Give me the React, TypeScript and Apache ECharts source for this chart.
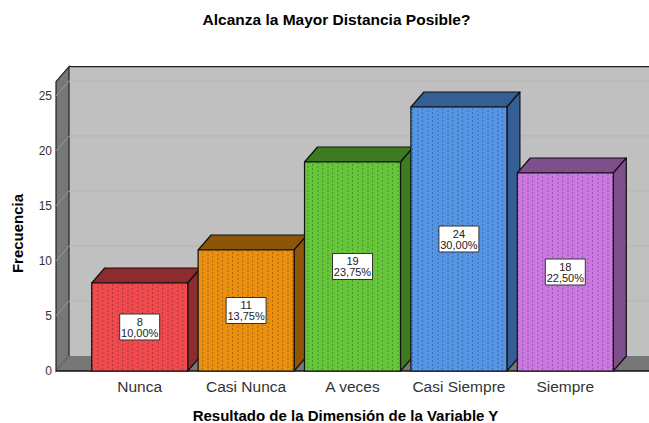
import React, { useEffect, useRef } from "react";
import * as echarts from "echarts";

const categories = ["Nunca", "Casi Nunca", "A veces", "Casi Siempre", "Siempre"];
const counts = [8, 11, 19, 24, 18];
const percents = ["10,00%", "13,75%", "23,75%", "30,00%", "22,50%"];
const frontColors = ["#f04a4e", "#ea8f10", "#64c638", "#5495e6", "#cc78e2"];
const sideColors = ["#8c2c2f", "#8c5508", "#3d7a20", "#355f94", "#7f4f8c"];
const yTicks = [0, 5, 10, 15, 20, 25];
const axisTop = 26.3;

const DX = 13;
const DY = 15;

function dots(fill: string) {
  const c = document.createElement("canvas");
  c.width = 10;
  c.height = 4;
  const g = c.getContext("2d")!;
  g.fillStyle = fill;
  g.fillRect(0, 0, 10, 4);
  g.fillStyle = "rgba(0,0,0,0.26)";
  g.fillRect(2, 0, 1, 2);
  g.fillStyle = "rgba(0,0,0,0.12)";
  g.fillRect(7, 2, 2, 2);
  return { image: c, repeat: "repeat" } as any;
}

export default function App() {
  const ref = useRef<HTMLDivElement>(null);
  useEffect(() => {
    const chart = echarts.init(ref.current!, undefined, { renderer: "svg" });
    const option: any = {
      animation: false,
      backgroundColor: "#fff",
      title: {
        text: "Alcanza la Mayor Distancia Posible?",
        left: 331.5,
        top: 6,
        textAlign: "center",
        textStyle: { fontFamily: "Liberation Sans", fontSize: 15.5, fontWeight: "bold", color: "#000" },
      },
      grid: { left: 86.5, width: 532, top: 96, height: 275, containLabel: false, outerBoundsMode: "none" },
      xAxis: {
        type: "category",
        data: categories,
        name: "Resultado de la Dimensión de la Variable Y",
        nameLocation: "middle",
        nameGap: 37,
        nameTextStyle: { fontFamily: "Liberation Sans", fontSize: 15, fontWeight: "bold", color: "#000", padding: [0, 14, 0, 0] },
        axisLine: { show: false },
        axisTick: { show: false },
        axisLabel: { interval: 0, fontFamily: "Liberation Sans", fontSize: 15.5, color: "#333", margin: 7 },
      },
      yAxis: {
        type: "value",
        min: 0,
        max: 25,
        interval: 5,
        offset: 30.5,
        name: "Frecuencia",
        nameLocation: "middle",
        nameGap: 31,
        nameRotate: 90,
        nameTextStyle: { fontFamily: "Liberation Sans", fontSize: 15, fontWeight: "bold", color: "#000" },
        splitLine: { show: false },
        axisLine: { show: false },
        axisTick: { show: false },
        axisLabel: { fontFamily: "Liberation Sans", fontSize: 12, color: "#333", margin: 4 },
      },
      series: [
        {
          type: "custom",
          coordinateSystem: "cartesian2d",
          clip: false,
          silent: true,
          z: 1,
          data: [0],
          renderItem: (_p: any, api: any) => {
            const y0 = api.coord([0, 0])[1];
            const yT = api.coord([0, axisTop])[1];
            const xL = 56;
            const xR = 660;
            const line = { stroke: "#222", lineWidth: 1.2 };
            const children: any[] = [
              { type: "polygon", shape: { points: [[xL + DX, yT - DY], [xR, yT - DY], [xR, y0 - DY], [xL + DX, y0 - DY]] }, style: { fill: "#c0c0c0" } },
              { type: "polygon", shape: { points: [[xL, y0], [xL + DX, y0 - DY], [xR, y0 - DY], [xR, y0]] }, style: { fill: "#777777" } },
              { type: "polygon", shape: { points: [[xL, yT], [xL + DX, yT - DY], [xL + DX, y0 - DY], [xL, y0]] }, style: { fill: "#777777", ...line } },
              { type: "line", shape: { x1: xL + DX, y1: yT - DY, x2: xR, y2: yT - DY }, style: line },
            ];
            yTicks.forEach((t) => {
              const y = api.coord([0, t])[1];
              if (t > 0) {
                children.push({ type: "line", shape: { x1: xL + DX, y1: y - DY, x2: xR, y2: y - DY }, style: { stroke: "#b5b5b5", lineWidth: 1 } });
              }
              children.push({ type: "line", shape: { x1: xL, y1: y, x2: xL + DX, y2: y - DY }, style: { stroke: "#9a9a9a", lineWidth: 1 } });
            });
            children.push({ type: "line", shape: { x1: xL, y1: y0, x2: xR, y2: y0 }, style: { stroke: "#111", lineWidth: 1.5 } });
            return { type: "group", children };
          },
        },
        {
          type: "custom",
          coordinateSystem: "cartesian2d",
          clip: false,
          z: 2,
          data: counts.map((v, i) => [i, v]),
          encode: { x: 0, y: 1 },
          renderItem: (_p: any, api: any) => {
            const i = api.value(0) as number;
            const v = api.value(1) as number;
            const [cx, yV] = api.coord([i, v]);
            const y0 = api.coord([i, 0])[1];
            const w = 96;
            const x1 = cx - w / 2;
            const x2 = cx + w / 2;
            const border = { stroke: "#111", lineWidth: 1.2, lineJoin: "round" };
            const midY = (yV + y0) / 2;
            const boxW = 40;
            const boxH = 26;
            return {
              type: "group",
              children: [
                { type: "polygon", shape: { points: [[x1, yV], [x1 + DX, yV - DY], [x2 + DX, yV - DY], [x2, yV]] }, style: { fill: sideColors[i], ...border } },
                { type: "polygon", shape: { points: [[x2, yV], [x2 + DX, yV - DY], [x2 + DX, y0 - DY], [x2, y0]] }, style: { fill: sideColors[i], ...border } },
                { type: "rect", shape: { x: x1, y: yV, width: w, height: y0 - yV }, style: { fill: dots(frontColors[i]), ...border } },
                { type: "rect", shape: { x: cx - boxW / 2, y: midY - boxH / 2, width: boxW, height: boxH }, style: { fill: "#fff", stroke: "#333", lineWidth: 1 } },
                { type: "text", x: cx, y: midY - 5.5, style: { text: String(v), fontFamily: "Liberation Sans", fontSize: 11, fill: "#222", align: "center", verticalAlign: "middle" } },
                { type: "text", x: cx, y: midY + 5.5, style: { text: percents[i], fontFamily: "Liberation Sans", fontSize: 11, fill: "#222", align: "center", verticalAlign: "middle" } },
              ],
            };
          },
        },
      ],
    };
    chart.setOption(option);
    return () => chart.dispose();
  }, []);
  return <div ref={ref} style={{ position: "fixed", left: 0, top: 0, width: 649, height: 423 }} />;
}
